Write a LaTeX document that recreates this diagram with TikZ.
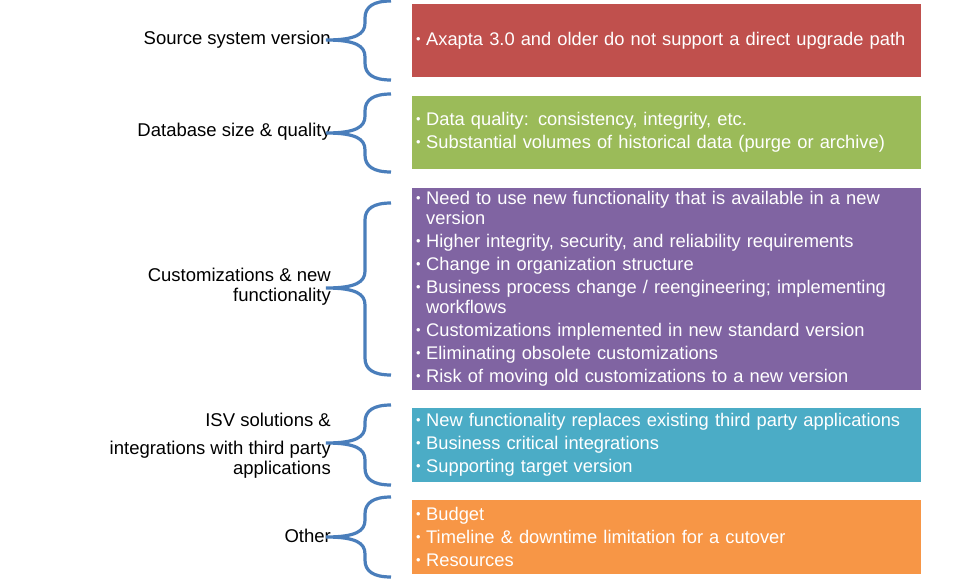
\documentclass[tikz,border=0pt]{standalone}
\usepackage{fontspec}
\setmainfont{Liberation Sans}
\definecolor{cred}{HTML}{C0504D}
\definecolor{cgreen}{HTML}{9BBB59}
\definecolor{cpurple}{HTML}{8064A2}
\definecolor{cteal}{HTML}{4BACC6}
\definecolor{corange}{HTML}{F79646}
\definecolor{cbrace}{HTML}{4A7EBB}
\newcommand\bitem[1]{\hangindent=10pt\hangafter=1\noindent\makebox[10pt][l]{\raisebox{0.12em}{\scalebox{0.7}{•}}}#1\par}
\newcommand\drawbrace[3]{% top, mid, bottom
  \draw[bracestyle] (391,#1) .. controls (373,#1) and (365,#1+6) .. (365,#1+17)
    -- (365,#2-17) .. controls (365,#2-6) and (356,#2) .. (326,#2)
    .. controls (356,#2) and (365,#2+6) .. (365,#2+17)
    -- (365,#3-17) .. controls (365,#3-6) and (373,#3) .. (391,#3);}
\begin{document}
\begin{tikzpicture}[x=1pt,y=-1pt,
  box/.style={anchor=north west, minimum width=509pt, text width=501pt,
    inner xsep=4pt, inner ysep=0pt, align=left, text=white,
    font=\fontsize{18.3}{20}\selectfont,
    execute at begin node={\setlength\parskip{3pt}}},
  lab/.style={anchor=east, align=right, inner sep=0pt,
    font=\fontsize{18.5}{20}\selectfont},
  bracestyle/.style={draw=cbrace, line width=3.2pt, line cap=butt}]
\useasboundingbox (0,0) rectangle (975,581);

\node[box, fill=cred, minimum height=73pt] (b1) at (412,4)
  {\bitem{Axapta 3.0 and older do not support a direct upgrade path}};
\node[box, fill=cgreen, minimum height=73pt] (b2) at (412,96)
  {\bitem{Data quality: consistency, integrity, etc.}
   \bitem{Substantial volumes of historical data (purge or archive)}};
\node[box, fill=cpurple, minimum height=202pt] (b3) at (412,188)
  {\bitem{Need to use new functionality that is available in a new\newline version}
   \bitem{Higher integrity, security, and reliability requirements}
   \bitem{Change in organization structure}
   \bitem{Business process change / reengineering; implementing\newline workflows}
   \bitem{Customizations implemented in new standard version}
   \bitem{Eliminating obsolete customizations}
   \bitem{Risk of moving old customizations to a new version}};
\node[box, fill=cteal, minimum height=74pt] (b4) at (412,408)
  {\bitem{New functionality replaces existing third party applications}
   \bitem{Business critical integrations}
   \bitem{Supporting target version}};
\node[box, fill=corange, minimum height=74pt] (b5) at (412,500)
  {\bitem{Budget}
   \bitem{Timeline \& downtime limitation for a cutover}
   \bitem{Resources}};

\node[lab] (l1) at (331,40) {Source system version};
\node[lab] (l2) at (331,132) {Database size \& quality};
\node[lab] (l3) at (331,287) {Customizations \& new\\functionality};
\node[lab] (l4) at (331,446) {ISV solutions \&\\[8pt]integrations with third party\\applications};
\node[lab] (l5) at (331,536) {Other};

\drawbrace{1}{40}{80}
\drawbrace{94}{133}{172}
\drawbrace{203}{288}{375}
\drawbrace{405}{443}{485}
\drawbrace{497}{537}{577}
\end{tikzpicture}
\end{document}
